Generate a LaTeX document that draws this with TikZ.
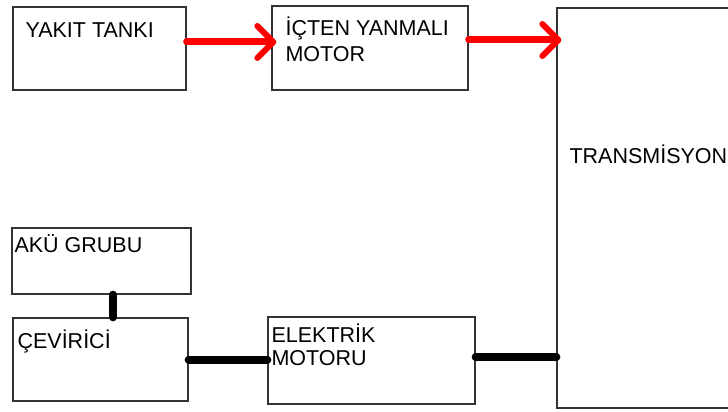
\documentclass[tikz,border=0pt]{standalone}
\usepackage{fontspec}
\setmainfont{Liberation Sans}
\usetikzlibrary{arrows.meta}

\begin{document}
\begin{tikzpicture}[x=1pt,y=-1pt,
  box/.style={draw=black!80, line width=1.3pt, inner sep=0pt},
  lbl/.style={inner sep=0pt, anchor=base west, align=left, font=\fontsize{21.5}{25}\selectfont},
  fuel/.style={red, line width=7pt, line cap=round, shorten >=-5pt, -{Straight Barb[length=16pt, width=32pt, line width=6pt, round]}},
  power/.style={black, line width=8pt, line cap=round}]
\useasboundingbox (0,0) rectangle (728,412);
\node[box, minimum width=173pt, minimum height=83pt] (yakit) at (99.5,48.5) {};
\node[box, minimum width=196pt, minimum height=84pt] (icten) at (370,48) {};
\node[box, minimum width=183pt, minimum height=400pt] (trans) at (648.5,208) {};
\node[box, minimum width=179pt, minimum height=66pt] (aku) at (101.5,261) {};
\node[box, minimum width=175pt, minimum height=83pt] (cevir) at (100.5,359.5) {};
\node[box, minimum width=207pt, minimum height=87pt] (elek) at (371.5,360.5) {};
\node[lbl] (yakit-t) at ([shift={(13,31)}]yakit.north west) {YAKIT TANKI};
\node[lbl, font=\fontsize{21.5}{26}\selectfont] (icten-t) at ([shift={(14,56)}]icten.north west) {İÇTEN YANMALI\\MOTOR};
\node[lbl] (trans-t) at ([shift={(13,156)}]trans.north west) {TRANSMİSYON};
\node[lbl] (aku-t) at ([shift={(3,25)}]aku.north west) {AKÜ GRUBU};
\node[lbl] (cevir-t) at ([shift={(5,31)}]cevir.north west) {ÇEVİRİCİ};
\node[lbl, font=\fontsize{21.5}{23}\selectfont] (elek-t) at ([shift={(4,49)}]elek.north west) {ELEKTRİK\\MOTORU};
\draw[fuel] ([yshift=6.5pt]yakit.east) coordinate (f1) -- (f1 -| icten.west);
\draw[fuel] ([yshift=8pt]icten.east) coordinate (f2) -- (f2 -| trans.west);
\draw[power] ([xshift=11.5pt]aku.south) coordinate (p1) -- (p1 |- cevir.north);
\draw[power] (cevir.east) coordinate (p2) -- (p2 -| elek.west);
\draw[power] ([yshift=3.5pt]elek.east) coordinate (p3) -- (p3 -| trans.west);
\end{tikzpicture}
\end{document}
